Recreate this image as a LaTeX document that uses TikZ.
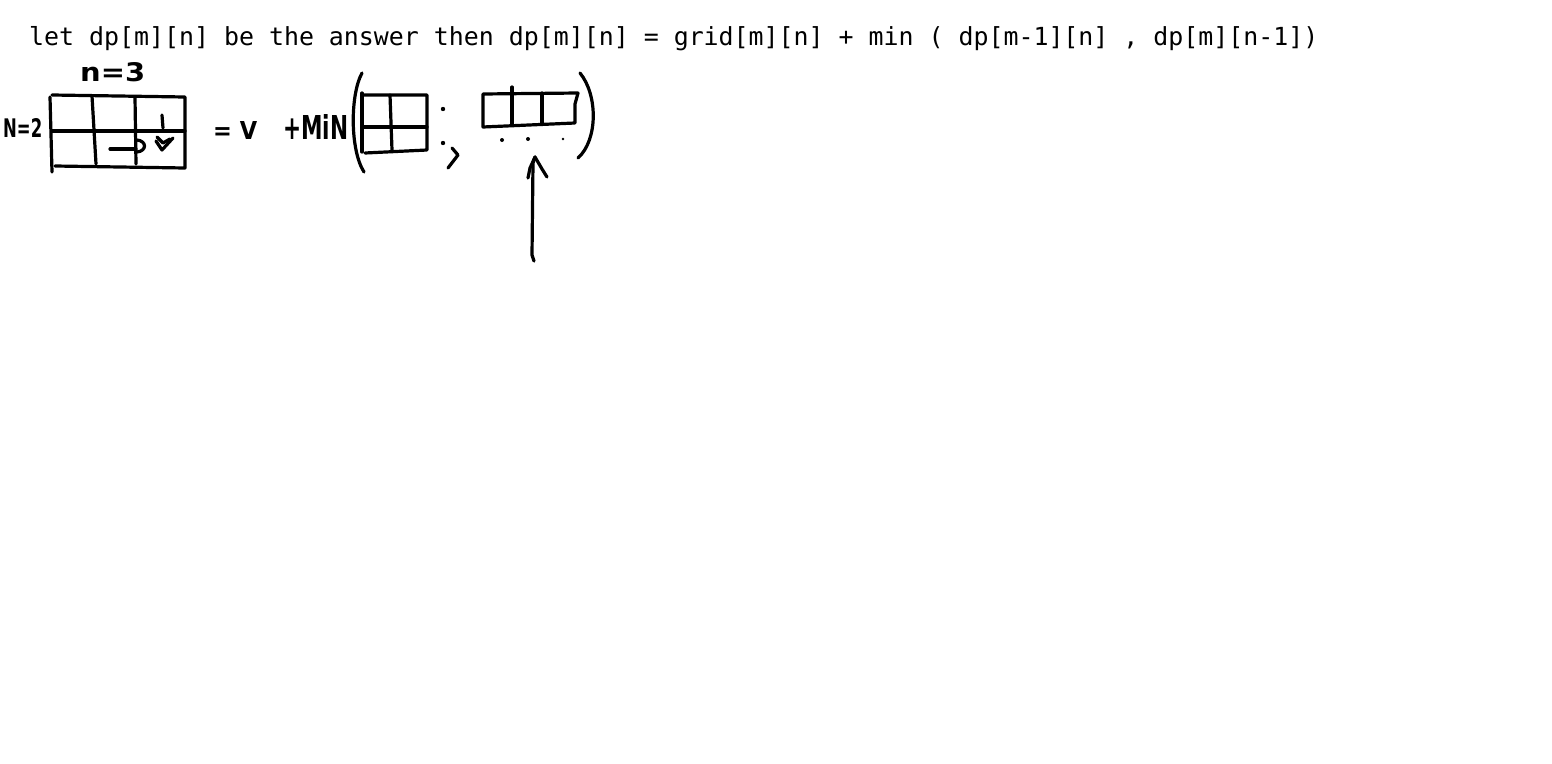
\documentclass[tikz,border=0pt]{standalone}
\usepackage{fontspec}
\newfontfamily\monofont{DejaVu Sans Mono}
\newfontfamily\handfont{DejaVu Sans}
\begin{document}
\begin{tikzpicture}[x=1pt,y=-1pt,
  stroke/.style={line width=3.2pt, line cap=round, line join=round},
  hand/.style={inner sep=0pt, font=\handfont\bfseries, anchor=south west},
  dotmark/.style={fill=black}]
\fill[white] (0,0) rectangle (1552,763);
\useasboundingbox (0,0) rectangle (1552,763);

% formula line
\node[anchor=base west, inner sep=0pt, font=\monofont\fontsize{24.9}{30}\selectfont] (formula) at (29,45)
  {let dp[m][n] be the answer then dp[m][n] = grid[m][n] + min ( dp[m-1][n] , dp[m][n-1])};

% handwritten labels
\node[hand] (ncols) at (80,82) {\resizebox{65pt}{19pt}{n=3}};
\node[hand] (nrows) at (3,138) {\resizebox{39pt}{19pt}{N=2}};
\node[hand] (eqv) at (213,140) {\resizebox{44pt}{18pt}{= V}};
\node[hand] (plusmin) at (283,140) {\resizebox{65pt}{25pt}{+MiN}};

% main 2x3 grid
\draw[stroke] (52,95) -- (185,97) -- (185,168) -- (55,166);
\draw[stroke] (50,97) -- (52,172);
\draw[stroke] (52,131) -- (185,131);
\draw[stroke] (92,96) -- (96,164);
\draw[stroke] (135,97) -- (136,164);

% arrows into the last cell
\draw[stroke] (162,115) -- (163,128);
\draw[stroke] (157,137) -- (163,143) -- (170,139);
\draw[stroke] (156,141) -- (162,150) -- (173,138);
\draw[stroke] (110,149) -- (136,149);
\draw[stroke] (137,140) .. controls (147,141) and (147,151) .. (137,152);

% left parenthesis
\draw[stroke] (362,73) .. controls (350,95) and (350,150) .. (364,172);

% small 2x2 grid
\draw[stroke] (362,95) -- (427,95) -- (427,150) -- (365,153);
\draw[stroke] (362,93) -- (362,152);
\draw[stroke] (362,127) -- (427,127);
\draw[stroke] (390,95) -- (392,150);

% separator  : ,
\fill[dotmark] (443,109) circle (2.2pt);
\fill[dotmark] (443,143) circle (2.2pt);
\draw[stroke] (452,148) -- (458,155) -- (448,168);

% 1x3 row grid
\draw[stroke] (483,94) -- (578,93) -- (575,104) -- (575,123) -- (483,127) -- cycle;
\draw[stroke] (512,87) -- (512,124);
\draw[stroke] (542,93) -- (542,123);
\fill[dotmark] (502,140) circle (2pt);
\fill[dotmark] (528,139) circle (2pt);
\fill[dotmark] (563,139) circle (1.4pt);

% right parenthesis
\draw[stroke] (580,73) .. controls (598,95) and (598,140) .. (578,158);

% upward arrow
\coordinate (arrowtail) at (534,261);
\coordinate (arrowtip) at (535,157);
\draw[stroke] (arrowtail) -- (532,255) -- (533,163) -- (arrowtip);
\draw[stroke] (arrowtip) -- (530,168) -- (528,178);
\draw[stroke] (arrowtip) -- (542,169) -- (547,177);
\end{tikzpicture}
\end{document}
